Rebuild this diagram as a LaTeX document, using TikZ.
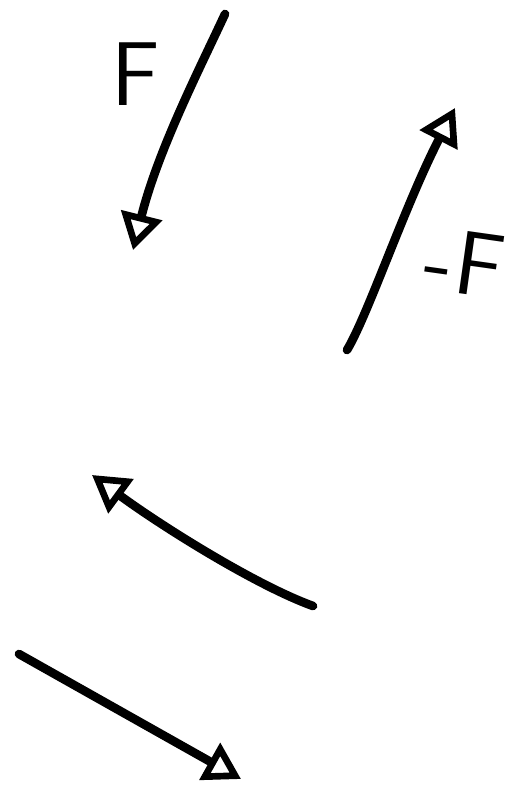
\documentclass[tikz,border=0pt]{standalone}
\usepackage{tikz}
\usetikzlibrary{arrows.meta}
\tikzset{
  force/.style={line width=6.5pt, line cap=round, -{Triangle[open, length=27pt, width=31pt, line width=5pt]}},
  forcelabel/.style={font=\sffamily\fontsize{68}{68}\selectfont, inner sep=0pt}
}

\begin{document}
\begin{tikzpicture}[x=0.75pt, y=-0.75pt]
        \useasboundingbox (0,0) rectangle (528,791);
        % pair on top: F and -F
        \coordinate (fstart) at (225,14);
        \coordinate (fend) at (133,250);
        \coordinate (mfstart) at (347,350);
        \coordinate (mfend) at (455,108);
        \draw[force] (fstart) .. controls (200,68) and (158,150) .. (fend);
        \draw[force] (mfstart) .. controls (368,315) and (405,205) .. (mfend);
        \node[forcelabel] (flabel) at (136,74) {F};
        \node[forcelabel, rotate=-8] (mflabel) at (465,263) {-\kern2pt F};
        % pair below
        \coordinate (upstart) at (313,606);
        \coordinate (upend) at (92,475);
        \coordinate (downstart) at (19,654);
        \coordinate (downend) at (241,779);
        \draw[force] (upstart) .. controls (255,585) and (160,525) .. (upend);
        \draw[force] (downstart) -- (downend);
      \end{tikzpicture}
\end{document}
